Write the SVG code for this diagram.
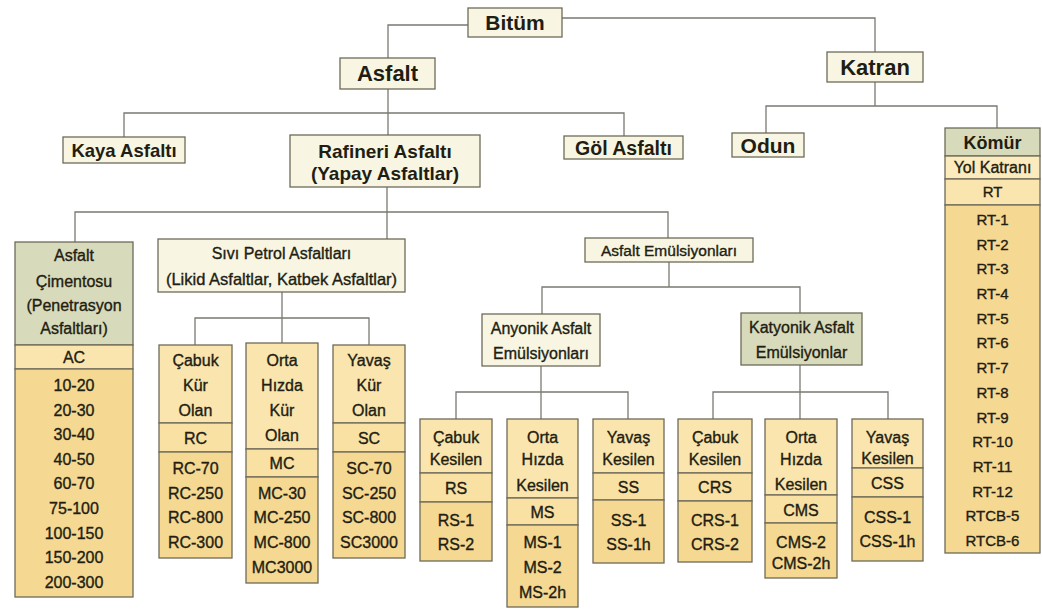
<svg xmlns="http://www.w3.org/2000/svg" width="1042" height="615" viewBox="0 0 1042 615">
<style>
.b{stroke:#6e6a58;stroke-width:1.3}
.cream{fill:#f8f6e2}
.green{fill:#d8dbbb}
.hdr{fill:#fbe5ae}
.code{fill:#f9e0a3}
.list{fill:#f5d892}
.lt{fill:#fbebbd}
text{font-family:"Liberation Sans",Arial,sans-serif;fill:#221d12;text-anchor:middle;stroke:#221d12;stroke-width:0.35}
.h{font-weight:bold;stroke:none}
.s16{font-size:16px}
.s15{font-size:15px}
.con path{fill:none;stroke:#7a7a72;stroke-width:1.3}
</style>
<rect x="0" y="0" width="1042" height="615" fill="#ffffff"/>

<g class="con">
<path d="M468,25 H388 V58"/>
<path d="M562,18 H875 V52"/>
<path d="M388,89 V135"/>
<path d="M124,137 V113 H624 V136"/>
<path d="M875,82 V106"/>
<path d="M766,133 V106 H997 V128"/>
<path d="M387,187 V239"/>
<path d="M75,242 V212 H668 V238"/>
<path d="M282,292 V343"/>
<path d="M195,345 V318 H369 V345"/>
<path d="M669,262 V287"/>
<path d="M542,314 V287 H800 V313"/>
<path d="M541,366 V419"/>
<path d="M456,419 V392 H628 V419"/>
<path d="M800,365 V419"/>
<path d="M713,419 V392 H888 V419"/>
</g>

<g id="bitum"><rect class="b cream" x="468" y="8" width="94" height="29"/><text class="h" x="515" y="30" font-size="21">Bitüm</text></g>
<g id="asfalt"><rect class="b cream" x="340" y="58" width="95" height="31"/><text class="h" x="387.5" y="81" font-size="22">Asfalt</text></g>
<g id="katran"><rect class="b cream" x="827" y="52" width="96" height="30"/><text class="h" x="875" y="75" font-size="22">Katran</text></g>
<g id="kaya"><rect class="b cream" x="63" y="137" width="122" height="26"/><text class="h" x="124" y="157" font-size="18.5">Kaya Asfaltı</text></g>
<g id="rafineri"><rect class="b cream" x="290" y="135" width="190" height="52"/><text class="h" x="385" y="158" font-size="19">Rafineri Asfaltı</text><text class="h" x="385" y="180" font-size="19">(Yapay Asfaltlar)</text></g>
<g id="gol"><rect class="b cream" x="564" y="136" width="119" height="23"/><text class="h" x="623.5" y="155" font-size="19.5">Göl Asfaltı</text></g>
<g id="odun"><rect class="b cream" x="732" y="133" width="72" height="24"/><text class="h" x="768" y="153" font-size="21">Odun</text></g>

<g id="komur">
<rect class="b green" x="945" y="128" width="95" height="28"/>
<rect class="b lt" x="945" y="156" width="95" height="23"/>
<rect class="b hdr" x="945" y="179" width="95" height="26"/>
<rect class="b list" x="945" y="205" width="95" height="348"/>
<text class="h" x="992.5" y="149" font-size="18">Kömür</text>
<text x="992.5" y="173" font-size="16">Yol Katranı</text>
<g class="s15">
<text x="992.5" y="197">RT</text>
<text x="992.5" y="225">RT-1</text>
<text x="992.5" y="250">RT-2</text>
<text x="992.5" y="274">RT-3</text>
<text x="992.5" y="299">RT-4</text>
<text x="992.5" y="324">RT-5</text>
<text x="992.5" y="348">RT-6</text>
<text x="992.5" y="373">RT-7</text>
<text x="992.5" y="398">RT-8</text>
<text x="992.5" y="423">RT-9</text>
<text x="992.5" y="447">RT-10</text>
<text x="992.5" y="472">RT-11</text>
<text x="992.5" y="497">RT-12</text>
<text x="992.5" y="521">RTCB-5</text>
<text x="992.5" y="546">RTCB-6</text>
</g>
</g>

<g id="asfalt-cimentosu">
<rect class="b green" x="15" y="242" width="118" height="103"/>
<rect class="b hdr" x="15" y="345" width="118" height="24"/>
<rect class="b list" x="15" y="369" width="118" height="228"/>
<g class="s16">
<text x="74" y="261">Asfalt</text>
<text x="74" y="287">Çimentosu</text>
<text x="74" y="311">(Penetrasyon</text>
<text x="74" y="334">Asfaltları)</text>
<text x="74" y="363">AC</text>
<text x="74" y="391">10-20</text>
<text x="74" y="416">20-30</text>
<text x="74" y="440">30-40</text>
<text x="74" y="465">40-50</text>
<text x="74" y="489">60-70</text>
<text x="74" y="514">75-100</text>
<text x="74" y="539">100-150</text>
<text x="74" y="563">150-200</text>
<text x="74" y="588">200-300</text>
</g>
</g>

<g id="sivi-petrol">
<rect class="b cream" x="158" y="239" width="247" height="53"/>
<text x="281.5" y="259" font-size="16">Sıvı Petrol Asfaltları</text>
<text x="281.5" y="285" font-size="16.5">(Likid Asfaltlar, Katbek Asfaltlar)</text>
</g>

<g id="rc" class="s16">
<rect class="b hdr" x="159" y="345" width="73" height="78"/>
<rect class="b code" x="159" y="423" width="73" height="29"/>
<rect class="b list" x="159" y="452" width="73" height="106"/>
<text x="195.5" y="366">Çabuk</text><text x="195.5" y="391">Kür</text><text x="195.5" y="416">Olan</text>
<text x="195.5" y="444">RC</text>
<text x="195.5" y="474">RC-70</text><text x="195.5" y="499">RC-250</text><text x="195.5" y="523">RC-800</text><text x="195.5" y="548">RC-300</text>
</g>

<g id="mc" class="s16">
<rect class="b hdr" x="246" y="343" width="72" height="106"/>
<rect class="b code" x="246" y="449" width="72" height="28"/>
<rect class="b list" x="246" y="477" width="72" height="106"/>
<text x="282" y="366">Orta</text><text x="282" y="391">Hızda</text><text x="282" y="416">Kür</text><text x="282" y="441">Olan</text>
<text x="282" y="469">MC</text>
<text x="282" y="499">MC-30</text><text x="282" y="523">MC-250</text><text x="282" y="548">MC-800</text><text x="282" y="573">MC3000</text>
</g>

<g id="sc" class="s16">
<rect class="b hdr" x="333" y="345" width="72" height="78"/>
<rect class="b code" x="333" y="423" width="72" height="29"/>
<rect class="b list" x="333" y="452" width="72" height="106"/>
<text x="369" y="366">Yavaş</text><text x="369" y="391">Kür</text><text x="369" y="416">Olan</text>
<text x="369" y="444">SC</text>
<text x="369" y="474">SC-70</text><text x="369" y="499">SC-250</text><text x="369" y="523">SC-800</text><text x="369" y="548">SC3000</text>
</g>

<g id="emulsiyon">
<rect class="b cream" x="585" y="238" width="168" height="24"/>
<text x="669" y="256" font-size="15.5">Asfalt Emülsiyonları</text>
</g>

<g id="anyonik">
<rect class="b cream" x="482" y="314" width="118" height="52"/>
<text x="541" y="334" font-size="16">Anyonik Asfalt</text>
<text x="541" y="359" font-size="16">Emülsiyonları</text>
</g>

<g id="katyonik">
<rect class="b green" x="741" y="313" width="121" height="52"/>
<text x="801.5" y="333" font-size="16">Katyonik Asfalt</text>
<text x="801.5" y="358" font-size="16">Emülsiyonlar</text>
</g>

<g id="rs" class="s16">
<rect class="b hdr" x="420" y="419" width="72" height="54"/>
<rect class="b code" x="420" y="473" width="72" height="29"/>
<rect class="b list" x="420" y="502" width="72" height="59"/>
<text x="456" y="443">Çabuk</text><text x="456" y="465">Kesilen</text>
<text x="456" y="494">RS</text>
<text x="456" y="526">RS-1</text><text x="456" y="550">RS-2</text>
</g>

<g id="ms" class="s16">
<rect class="b hdr" x="507" y="419" width="71" height="79"/>
<rect class="b code" x="507" y="498" width="71" height="27"/>
<rect class="b list" x="507" y="525" width="71" height="82"/>
<text x="542.5" y="443">Orta</text><text x="542.5" y="465">Hızda</text><text x="542.5" y="491">Kesilen</text>
<text x="542.5" y="518">MS</text>
<text x="542.5" y="548">MS-1</text><text x="542.5" y="573">MS-2</text><text x="542.5" y="598">MS-2h</text>
</g>

<g id="ss" class="s16">
<rect class="b hdr" x="593" y="419" width="71" height="54"/>
<rect class="b code" x="593" y="473" width="71" height="27"/>
<rect class="b list" x="593" y="500" width="71" height="63"/>
<text x="628.5" y="443">Yavaş</text><text x="628.5" y="465">Kesilen</text>
<text x="628.5" y="493">SS</text>
<text x="628.5" y="526">SS-1</text><text x="628.5" y="550">SS-1h</text>
</g>

<g id="crs" class="s16">
<rect class="b hdr" x="678" y="419" width="74" height="54"/>
<rect class="b code" x="678" y="473" width="74" height="28"/>
<rect class="b list" x="678" y="501" width="74" height="61"/>
<text x="715" y="443">Çabuk</text><text x="715" y="465">Kesilen</text>
<text x="715" y="493">CRS</text>
<text x="715" y="526">CRS-1</text><text x="715" y="550">CRS-2</text>
</g>

<g id="cms" class="s16">
<rect class="b hdr" x="765" y="419" width="72" height="76"/>
<rect class="b code" x="765" y="495" width="72" height="28"/>
<rect class="b list" x="765" y="523" width="72" height="55"/>
<text x="801" y="443">Orta</text><text x="801" y="465">Hızda</text><text x="801" y="490">Kesilen</text>
<text x="801" y="516">CMS</text>
<text x="801" y="548">CMS-2</text><text x="801" y="569">CMS-2h</text>
</g>

<g id="css" class="s16">
<rect class="b hdr" x="852" y="419" width="71" height="49"/>
<rect class="b code" x="852" y="468" width="71" height="29"/>
<rect class="b list" x="852" y="497" width="71" height="64"/>
<text x="887.5" y="443">Yavaş</text><text x="887.5" y="464">Kesilen</text>
<text x="887.5" y="489">CSS</text>
<text x="887.5" y="523">CSS-1</text><text x="887.5" y="547">CSS-1h</text>
</g>
</svg>
